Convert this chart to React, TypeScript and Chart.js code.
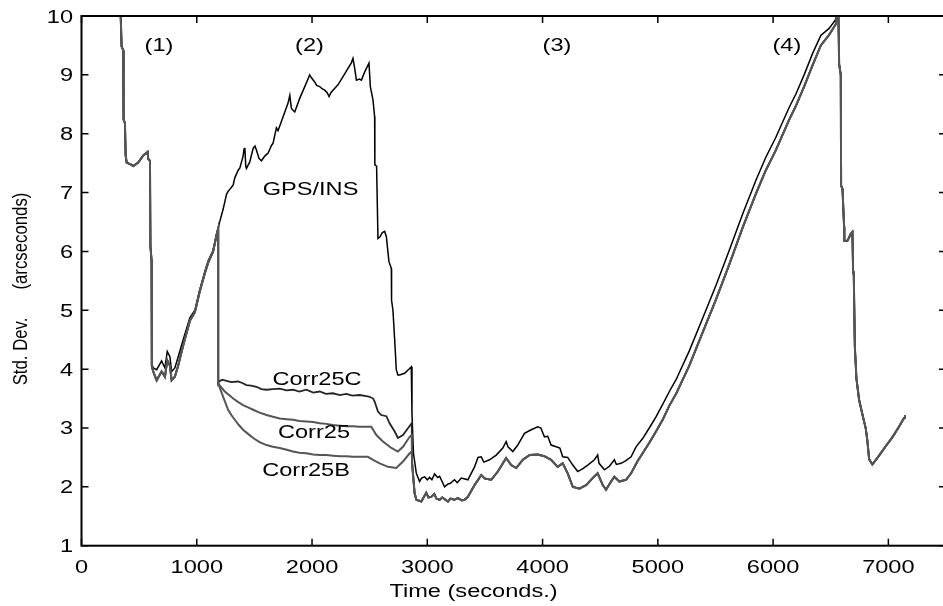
import React, { useEffect, useRef } from 'react';
import { Chart, registerables } from 'chart.js';

Chart.register(...registerables);

// ---------- tick labels ----------
const xTicks = [0, 1000, 2000, 3000, 4000, 5000, 6000, 7000];
const yTicks = [1, 2, 3, 4, 5, 6, 7, 8, 9, 10];

// ---------- shared start (Corr series) ----------
const earlyT = [338, 340, 348, 362, 365, 377, 383, 392, 435, 449,
  492, 536, 573, 579, 594, 598, 608, 610, 622, 652,
  695, 724, 744, 767, 782, 810, 839, 882, 940, 984,
  1027, 1070, 1099, 1142, 1172, 1186];
const earlyV = [10.6, 10.0, 9.48, 9.42, 8.24, 8.18, 7.63, 7.51, 7.47, 7.45,
  7.51, 7.63, 7.69, 7.57, 7.54, 6.09, 5.84, 4.05, 3.96, 3.81,
  3.96, 3.87, 4.15, 4.06, 3.81, 3.87, 4.06, 4.40, 4.82, 4.97,
  5.33, 5.63, 5.81, 6.00, 6.28, 6.39];

// ---------- GPS/INS ----------
const gpsT = [338, 340, 348, 362, 365, 377, 383, 392, 435, 449,
  492, 536, 573, 579, 594, 598, 608, 610, 622, 652,
  695, 724, 744, 767, 782, 810, 839, 882, 940, 984,
  1027, 1070, 1099, 1142, 1172, 1186,
  1200, 1229, 1258, 1272, 1301, 1316, 1330, 1359, 1374, 1402,
  1410, 1417, 1425, 1431, 1460, 1489, 1505, 1518, 1540, 1561,
  1590, 1619, 1648, 1662, 1691, 1705, 1749, 1792, 1807, 1821,
  1850, 1893, 1937, 1980, 1995, 2023, 2040, 2067, 2090, 2110,
  2130, 2148, 2165, 2182, 2225, 2269, 2312, 2340, 2355, 2370,
  2385, 2410, 2428, 2457, 2494, 2506, 2529, 2543, 2545, 2560,
  2572, 2590, 2610, 2630, 2645, 2667, 2688, 2690, 2702, 2717,
  2731, 2745, 2760, 2803, 2847, 2861, 2867, 2880, 2905, 2933,
  2950, 2977, 3000, 3020, 3040, 3063, 3090, 3107, 3150, 3180,
  3200, 3236, 3260, 3295, 3352, 3410, 3440, 3468, 3490, 3540,
  3598, 3655, 3684, 3700, 3742, 3785, 3843, 3901, 3958, 3985,
  4016, 4045, 4074, 4118, 4150, 4175, 4218, 4262, 4305, 4350,
  4392, 4450, 4478, 4490, 4537, 4580, 4623, 4640, 4681, 4720,
  4768, 4811, 4868, 4926, 4984, 5042, 5100, 5158, 5273, 5388,
  5504, 5620, 5735, 5851, 5937, 6024, 6140, 6197, 6269, 6342,
  6414, 6486, 6544, 6556];
const gpsV = [10.6, 10.0, 9.48, 9.42, 8.24, 8.18, 7.63, 7.51, 7.47, 7.45,
  7.51, 7.63, 7.69, 7.57, 7.54, 6.09, 5.84, 4.10, 4.02, 3.99,
  4.14, 4.02, 4.30, 4.21, 3.96, 4.02, 4.21, 4.50, 4.87, 5.00,
  5.36, 5.66, 5.84, 6.02, 6.30, 6.40,
  6.51, 6.72, 6.97, 7.02, 7.09, 7.13, 7.25, 7.38, 7.42, 7.62,
  7.74, 7.76, 7.45, 7.41, 7.52, 7.75, 7.79, 7.72, 7.58, 7.54,
  7.62, 7.67, 7.80, 7.84, 8.10, 8.05, 8.29, 8.52, 8.65, 8.43,
  8.37, 8.60, 8.80, 9.00, 8.95, 8.88, 8.82, 8.80, 8.76, 8.74,
  8.70, 8.63, 8.70, 8.74, 8.83, 8.97, 9.11, 9.20, 9.28, 9.11,
  8.91, 8.93, 8.91, 9.05, 9.20, 8.80, 8.57, 8.29, 7.47, 7.45,
  6.22, 6.25, 6.32, 6.34, 6.25, 5.83, 5.71, 5.17, 5.00, 4.50,
  3.99, 3.90, 3.90, 3.93, 4.01, 4.04, 3.25, 2.57, 2.23, 2.09,
  2.15, 2.17, 2.12, 2.16, 2.12, 2.22, 2.16, 2.18, 2.00, 2.05,
  2.06, 2.12, 2.07, 2.15, 2.12, 2.34, 2.50, 2.51, 2.42, 2.46,
  2.54, 2.66, 2.77, 2.68, 2.60, 2.71, 2.91, 2.97, 3.02, 3.00,
  2.85, 2.86, 2.71, 2.68, 2.66, 2.51, 2.50, 2.37, 2.26, 2.31,
  2.37, 2.46, 2.54, 2.40, 2.29, 2.35, 2.46, 2.38, 2.40, 2.44,
  2.51, 2.68, 2.82, 3.00, 3.19, 3.40, 3.62, 3.82, 4.31, 4.86,
  5.42, 6.02, 6.63, 7.21, 7.60, 7.94, 8.45, 8.67, 9.00, 9.36,
  9.67, 9.79, 9.94, 10.1];

// ---------- Corr25C ----------
const corr25cT = [1186, 1194, 1220, 1258, 1300, 1359, 1400, 1431, 1470, 1518,
  1560, 1605, 1660, 1720, 1780, 1835, 1890, 1951, 2010, 2067,
  2120, 2182, 2240, 2298, 2350, 2413, 2470, 2500, 2530, 2543,
  2572, 2600, 2645, 2673, 2717, 2745, 2789, 2853, 2865];
const corr25cV = [3.76, 3.79, 3.82, 3.80, 3.78, 3.79, 3.76, 3.73, 3.72, 3.70,
  3.66, 3.65, 3.66, 3.67, 3.64, 3.65, 3.62, 3.65, 3.60, 3.62,
  3.58, 3.59, 3.56, 3.58, 3.55, 3.56, 3.54, 3.53, 3.50, 3.45,
  3.28, 3.22, 3.20, 3.08, 2.94, 2.83, 2.88, 3.05, 3.08];

// ---------- Corr25 ----------
const corr25T = [1186, 1200, 1243, 1280, 1316, 1360, 1402, 1445, 1489, 1545,
  1605, 1660, 1720, 1780, 1835, 1890, 1951, 2010, 2067, 2125,
  2182, 2240, 2298, 2355, 2413, 2470, 2514, 2558, 2615, 2688,
  2745, 2789, 2847, 2865];
const corr25V = [3.76, 3.72, 3.62, 3.56, 3.50, 3.44, 3.39, 3.35, 3.31, 3.26,
  3.22, 3.19, 3.16, 3.15, 3.14, 3.12, 3.11, 3.10, 3.08, 3.07,
  3.05, 3.04, 3.03, 3.03, 3.02, 3.02, 3.02, 2.88, 2.77, 2.66,
  2.60, 2.68, 2.85, 2.88];

// ---------- Corr25B ----------
const corr25bT = [1186, 1200, 1229, 1250, 1272, 1300, 1330, 1365, 1402, 1445,
  1489, 1545, 1605, 1660, 1720, 1780, 1835, 1890, 1951, 2010,
  2067, 2125, 2182, 2240, 2298, 2355, 2413, 2485, 2529, 2587,
  2659, 2731, 2789, 2847, 2865];
const corr25bV = [3.76, 3.68, 3.53, 3.42, 3.31, 3.22, 3.14, 3.05, 2.97, 2.90,
  2.83, 2.76, 2.71, 2.68, 2.66, 2.63, 2.60, 2.58, 2.57, 2.55,
  2.54, 2.54, 2.53, 2.52, 2.52, 2.51, 2.51, 2.51, 2.46, 2.40,
  2.34, 2.32, 2.43, 2.57, 2.60];

// ---------- shared lower line of Corr series after 2870 s ----------
const lowT = [2868, 2890, 2905, 2948, 2991, 3010, 3035, 3060, 3080, 3107,
  3130, 3179, 3200, 3236, 3265, 3300, 3323, 3352, 3410, 3468,
  3500, 3555, 3612, 3684, 3728, 3771, 3829, 3887, 3958, 4016,
  4074, 4131, 4175, 4218, 4262, 4320, 4378, 4435, 4478, 4522,
  4551, 4594, 4623, 4666, 4724, 4768, 4825, 4868, 4926, 4984,
  5042, 5100, 5158, 5273, 5388, 5504, 5620, 5735, 5851, 5937,
  6024, 6140, 6197, 6269, 6342, 6414, 6486, 6544, 6556];
const lowV = [2.40, 1.89, 1.78, 1.75, 1.90, 1.82, 1.83, 1.88, 1.80, 1.78,
  1.82, 1.75, 1.80, 1.78, 1.81, 1.77, 1.78, 1.83, 2.03, 2.20,
  2.14, 2.12, 2.26, 2.49, 2.37, 2.32, 2.46, 2.54, 2.55, 2.52,
  2.46, 2.34, 2.40, 2.23, 2.00, 1.97, 2.03, 2.15, 2.23, 2.03,
  1.95, 2.09, 2.17, 2.09, 2.12, 2.23, 2.44, 2.57, 2.75, 2.94,
  3.14, 3.38, 3.58, 4.06, 4.62, 5.18, 5.78, 6.40, 6.98, 7.38,
  7.72, 8.24, 8.47, 8.80, 9.16, 9.50, 9.68, 9.86, 10.0];

// ---------- shared tail (all series) ----------
const tailT = [6558, 6567, 6573, 6587, 6590, 6602, 6616, 6618, 6645, 6674,
  6688, 6694, 6700, 6709, 6723, 6746, 6775, 6804, 6818, 6833,
  6861, 6919, 6977, 7034, 7092, 7136, 7144];
const tailV = [10.4, 9.97, 9.18, 9.00, 7.12, 7.06, 6.42, 6.18, 6.18, 6.30,
  6.33, 5.66, 5.60, 4.39, 3.84, 3.48, 3.23, 2.99, 2.78, 2.47,
  2.38, 2.53, 2.69, 2.84, 3.02, 3.17, 3.22];

// ---------- in-plot labels (data coordinates, baseline centre) ----------
const noteText = ['(1)', '(2)', '(3)', '(4)', 'GPS/INS', 'Corr25C', 'Corr25', 'Corr25B'];
const noteT = [672, 1978, 4125, 6120, 1987, 2043, 2017, 1948];
const noteV = [9.41, 9.41, 9.41, 9.41, 6.96, 3.73, 2.83, 2.18];

const FONT = '"Liberation Sans", Arial, Helvetica, sans-serif';
const SX = 1.31;

const pts = (t: number[], v: number[]) => t.map((x, i) => ({ x, y: v[i] }));

function drawText(ctx: CanvasRenderingContext2D, text: string, x: number, y: number, align: CanvasTextAlign, size: number) {
  ctx.save();
  ctx.translate(x, y);
  ctx.scale(SX, 1);
  ctx.font = `${size}px ${FONT}`;
  ctx.textAlign = align;
  ctx.textBaseline = 'alphabetic';
  ctx.fillStyle = '#000';
  ctx.fillText(text, 0, 0);
  ctx.restore();
}

const framePlugin = {
  id: 'frame',
  afterDatasetsDraw(chart: any) {
    const { ctx, chartArea: a } = chart;
    const xs = chart.scales.x;
    const ys = chart.scales.y;
    ctx.save();
    ctx.strokeStyle = '#000';
    ctx.lineWidth = 2;
    ctx.strokeRect(a.left, a.top, a.right - a.left, a.bottom - a.top);
    ctx.lineWidth = 1.5;
    ctx.beginPath();
    xTicks.forEach((v) => {
      const px = xs.getPixelForValue(v);
      ctx.moveTo(px, a.bottom); ctx.lineTo(px, a.bottom - 7);
      ctx.moveTo(px, a.top); ctx.lineTo(px, a.top + 7);
    });
    yTicks.forEach((v) => {
      const py = ys.getPixelForValue(v);
      ctx.moveTo(a.left, py); ctx.lineTo(a.left + 7, py);
      ctx.moveTo(a.right, py); ctx.lineTo(a.right - 7, py);
    });
    ctx.stroke();
    ctx.restore();

    xTicks.forEach((v) => {
      drawText(ctx, String(v), xs.getPixelForValue(v), a.bottom + 27, 'center', 18);
    });
    yTicks.forEach((v) => {
      drawText(ctx, String(v), a.left - 8.5, ys.getPixelForValue(v) + 6.5, 'right', 18);
    });
    noteText.forEach((s, i) => {
      drawText(ctx, s, xs.getPixelForValue(noteT[i]), ys.getPixelForValue(noteV[i]), 'center', 18);
    });
    // axis titles
    drawText(ctx, 'Time (seconds.)', 473.5, a.bottom + 51, 'center', 18);
    ctx.save();
    ctx.translate(26.5, 289);
    ctx.scale(1.25, 1);
    ctx.rotate(-Math.PI / 2);
    ctx.font = `16.8px ${FONT}`;
    ctx.textAlign = 'center';
    ctx.textBaseline = 'alphabetic';
    ctx.fillStyle = '#000';
    ctx.fillText('Std. Dev.      (arcseconds)', 0, 0);
    ctx.restore();
  },
};

export default function App() {
  const ref = useRef<HTMLCanvasElement | null>(null);
  useEffect(() => {
    if (!ref.current) return;
    const gps = [...pts(gpsT, gpsV), ...pts(tailT, tailV)];
    const early = pts(earlyT, earlyV);
    const low = pts(lowT, lowV);
    const tail = pts(tailT, tailV);
    const chart = new Chart(ref.current, {
      type: 'line',
      data: {
        datasets: [
          { label: 'GPS/INS', data: gps, borderColor: '#000000', borderWidth: 1.5, order: 4 },
          { label: 'Corr25C', data: [...early, ...pts(corr25cT, corr25cV), ...low, ...tail], borderColor: '#242424', borderWidth: 1.8, order: 3 },
          { label: 'Corr25', data: [...early, ...pts(corr25T, corr25V), ...low, ...tail], borderColor: '#555555', borderWidth: 2, order: 2 },
          { label: 'Corr25B', data: [...early, ...pts(corr25bT, corr25bV), ...low, ...tail], borderColor: '#555555', borderWidth: 2, order: 1 },
        ],
      },
      options: {
        responsive: false,
        animation: false,
        devicePixelRatio: 1,
        events: [],
        layout: { padding: { left: 81.5, top: 16, right: 14, bottom: 60.3 } },
        elements: { point: { radius: 0 }, line: { tension: 0, fill: false } },
        scales: {
          x: { type: 'linear', min: 0, max: 7500, display: false },
          y: { type: 'linear', min: 1, max: 10, display: false },
        },
        plugins: { legend: { display: false }, tooltip: { enabled: false } },
      },
      plugins: [framePlugin],
    });
    return () => chart.destroy();
  }, []);
  return (
    <div style={{ position: 'fixed', left: 0, top: 0, width: 943, height: 606, overflow: 'hidden', background: '#fff' }}>
      <canvas ref={ref} width={960} height={606} style={{ display: 'block', width: 960, height: 606 }} />
    </div>
  );
}
